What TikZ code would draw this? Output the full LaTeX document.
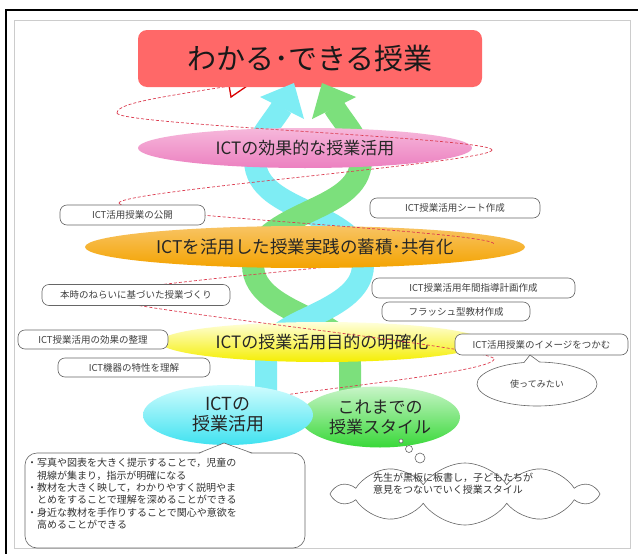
\documentclass[tikz,border=0pt]{standalone}
\usepackage{fontspec}
\setmainfont{Noto Sans CJK JP}
\usetikzlibrary{shapes.geometric,shapes.callouts,shapes.symbols}
\definecolor{titlered}{HTML}{FF6868}
\definecolor{spiralred}{HTML}{DC3C50}
\definecolor{bandcyan}{HTML}{7EEDF4}
\definecolor{bandgreen}{HTML}{7CE07C}
\definecolor{boxline}{HTML}{666666}
\begin{document}
\begin{tikzpicture}[x=1pt,y=-1pt,
  tbox/.style={draw=boxline, line width=0.6pt, rounded corners=7pt, fill=white,
    inner sep=0pt, font=\fontsize{9.5}{11}\selectfont, text=black!75},
  band/.style={line width=22pt, line cap=butt},
  spiral/.style={draw=spiralred, line width=0.7pt, dash pattern=on 3pt off 2pt},
  bigell/.style={ellipse, inner sep=0pt, text=black!85},
  thin/.style={draw=boxline, line width=0.6pt, fill=white}
]
\useasboundingbox (0,0) rectangle (638,554);
\fill[white] (0,0) rectangle (638,554);
% frames
\draw[black!20, line width=1pt] (14,20) rectangle (630,548);
\draw[line width=2pt] (6,554) -- (6,10) -- (638,10);

% helix bands
\draw[band, bandgreen] (350,395) -- (350,365) .. controls (350,338) and (333,330) .. (308,318)
   .. controls (283,306) and (253,292) .. (253,265);
\draw[band, bandcyan] (266,395) -- (266,365) .. controls (266,338) and (283,330) .. (308,318)
   .. controls (333,306) and (363,292) .. (363,265)
   .. controls (363,238) and (333,224) .. (308,212)
   .. controls (283,200) and (255,188) .. (255,160)
   .. controls (255,140) and (270,126) .. (282,107);
\draw[band, bandgreen] (253,265) .. controls (253,238) and (283,224) .. (308,212)
   .. controls (333,200) and (361,188) .. (361,160)
   .. controls (361,140) and (346,126) .. (334,107);

% spiral dashed line: back segments
\draw[spiral] (284,77) .. controls (180,95) and (117,101) .. (117,113);
\draw[spiral] (492,150) .. controls (492,162) and (119,191) .. (119,203);
\draw[spiral] (494,244) .. controls (494,256) and (101,284) .. (101,296);
\draw[spiral] (494,359) .. controls (494,371) and (330,388) .. (285,395);

% level ellipses
\node[bigell, minimum width=334pt, minimum height=40pt, top color={rgb,255:red,246;green,184;blue,219},
  middle color={rgb,255:red,252;green,226;blue,240}, bottom color={rgb,255:red,236;green,128;blue,192},
  font=\fontsize{17}{20}\selectfont] (pink) at (305,148) {ICTの効果的な授業活用};
\node[bigell, minimum width=440pt, minimum height=42pt, top color={rgb,255:red,248;green,196;blue,100},
  middle color={rgb,255:red,255;green,243;blue,218}, bottom color={rgb,255:red,244;green,163;blue,0},
  font=\fontsize{17.5}{20}\selectfont] (orange) at (305,247) {ICTを活用した授業実践の蓄積･共有化};
\node[bigell, minimum width=324pt, minimum height=40pt, top color={rgb,255:red,255;green,255;blue,220},
  middle color={rgb,255:red,255;green,255;blue,140}, bottom color={rgb,255:red,245;green,238;blue,0},
  font=\fontsize{17}{20}\selectfont] (yellow) at (322,342) {ICTの授業活用目的の明確化};

% spiral dashed line: front segments
\draw[spiral] (117,113) .. controls (117,125) and (492,138) .. (492,150);
\draw[spiral] (119,203) .. controls (119,215) and (494,232) .. (494,244);
\draw[spiral] (101,296) .. controls (101,308) and (494,347) .. (494,359);

% red open triangle on spiral
\draw[red!85!black, line width=1.3pt, fill=white, line join=miter] (228,79) -- (247,86) -- (231,97) -- cycle;

% title
\node[fill=titlered, rounded corners=9pt, minimum width=344pt, minimum height=57pt, inner sep=0pt,
  font=\fontsize{29}{32}\selectfont, text=black!90] (title) at (310,58.5) {わかる･できる授業};

% arrowheads
\fill[bandcyan] (294,83) -- (260,97) -- (304,119) -- cycle;
\fill[bandgreen] (322,83) -- (356,97) -- (312,119) -- cycle;

% boxes
\node[tbox, minimum width=145pt, minimum height=20pt] (b1) at (132.5,215) {ICT活用授業の公開};
\node[tbox, minimum width=170pt, minimum height=20pt] (b2) at (455,208) {ICT授業活用シート作成};
\node[tbox, minimum width=188pt, minimum height=21pt] (b3) at (136,295) {本時のねらいに基づいた授業づくり};
\node[tbox, minimum width=203pt, minimum height=20pt] (b4) at (473.5,288) {ICT授業活用年間指導計画作成};
\node[tbox, minimum width=148pt, minimum height=19pt] (b5) at (456,311.5) {フラッシュ型教材作成};
\node[tbox, minimum width=150pt, minimum height=19pt] (b6) at (93,339.5) {ICT授業活用の効果の整理};
\node[tbox, minimum width=173pt, minimum height=21pt] (b7) at (541.5,344.5) {ICT活用授業のイメージをつかむ};
\node[tbox, minimum width=152pt, minimum height=19pt] (b8) at (134,367.5) {ICT機器の特性を理解};

% callout
\node[ellipse callout, thin, minimum width=120pt, minimum height=44pt, inner sep=0pt,
  callout absolute pointer={(530,355)}, font=\fontsize{9}{11}\selectfont, text=black!75]
  (try) at (537,384) {使ってみたい};

% bottom ellipses
\node[bigell, minimum width=160pt, minimum height=61pt, top color={rgb,255:red,200;green,245;blue,200},
  bottom color={rgb,255:red,56;green,216;blue,56}, align=center,
  font=\fontsize{17}{20}\selectfont] (style) at (380,417) {これまでの\\授業スタイル};
\node[bigell, minimum width=170pt, minimum height=60pt, top color={rgb,255:red,208;green,252;blue,254},
  bottom color={rgb,255:red,64;green,226;blue,240}, align=center,
  font=\fontsize{18}{20}\selectfont] (ict) at (228,415) {ICTの\\授業活用};

% thought circles and cloud
\draw[thin] (401,441) circle (2pt);
\draw[thin] (409,449) circle (3.5pt);
\draw[thin] (420,458) circle (5pt);
\node[cloud, thin, cloud puffs=10, cloud puff arc=110, aspect=4, minimum width=260pt,
  minimum height=62pt, inner sep=0pt] (cloud) at (465,494) {};
\node[anchor=west, align=left, inner sep=0pt, font=\fontsize{10}{12}\selectfont, text=black!80]
  (cloudtext) at (373,484) {先生が黒板に板書し，子どもたちが\\意見をつないでいく授業スタイル};

% bottom-left callout box
\node[thin, rounded corners=12pt, minimum width=280pt, minimum height=95pt, inner sep=0pt] (bulletbox) at (165,500.5) {};
\fill[white] (199,454) -- (224,443) -- (252,454) -- cycle;
\draw[boxline, line width=0.6pt] (199,453) -- (224,443) -- (252,453);
\node[anchor=north west, align=left, inner sep=0pt, font=\fontsize{10}{12.4}\selectfont, text=black!80]
  (bullets) at (27,458) {・写真や図表を大きく提示することで，児童の\\
\hspace*{1em}視線が集まり，指示が明確になる\\
・教材を大きく映して，わかりやすく説明やま\\
\hspace*{1em}とめをすることで理解を深めることができる\\
・身近な教材を手作りすることで関心や意欲を\\
\hspace*{1em}高めることができる};
\end{tikzpicture}
\end{document}
